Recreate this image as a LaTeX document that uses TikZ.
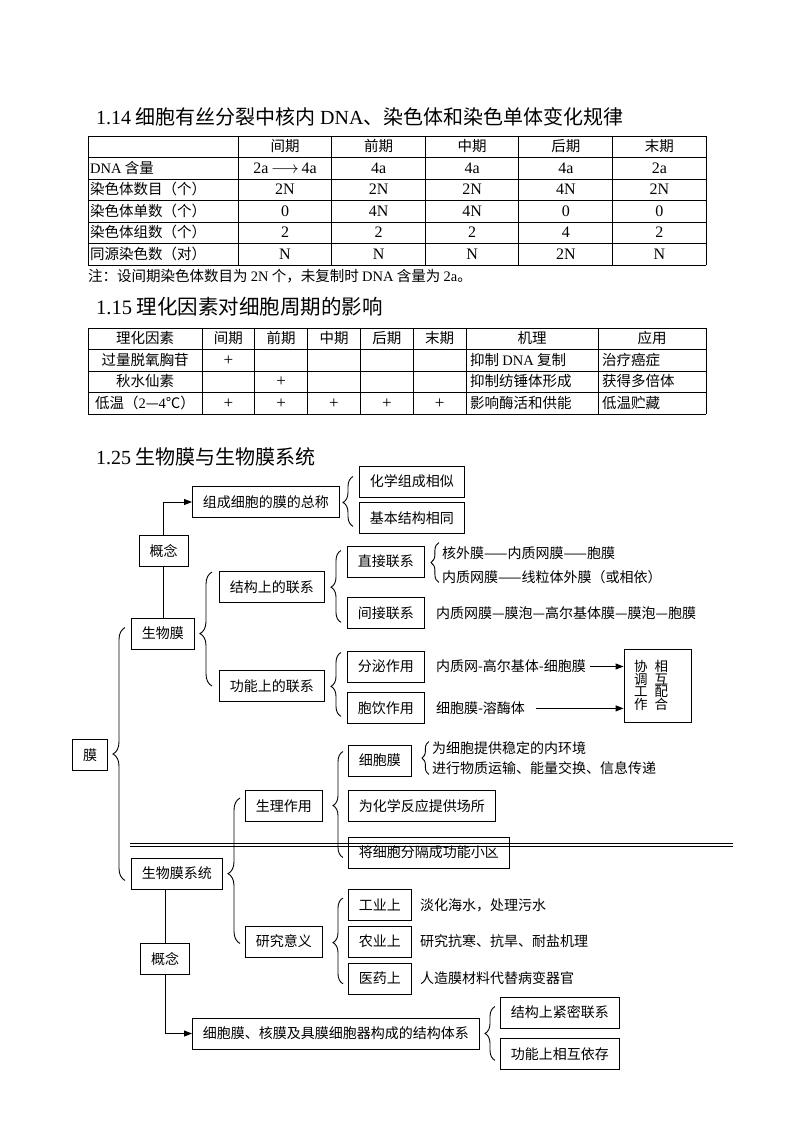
\documentclass[tikz,border=0pt]{standalone}
\usepackage{fontspec}
\setmainfont{Liberation Serif}
\newfontfamily\zhfont{Noto Sans CJK SC}
\usepackage{tikz}
\usetikzlibrary{arrows.meta, positioning, calc, decorations.pathreplacing}

\tikzset{
  box/.style={
    rectangle, draw, line width=0.9pt,
    inner xsep=10.5pt, inner ysep=0pt,
    minimum height=31pt,
    text height=11.5pt, text depth=1.5pt,
    font=\zhfont\fontsize{14}{14}\selectfont,
  },
  tallbox/.style={
    rectangle, draw, line width=0.9pt,
    minimum width=67pt, minimum height=73pt,
    inner xsep=10pt, inner ysep=0pt, text width=47pt,
    align=left, font=\zhfont\fontsize{13.5}{12.7}\selectfont,
  },
  txt/.style={
    inner sep=1pt, anchor=west,
    text height=11.5pt, text depth=1.5pt,
    font=\zhfont\fontsize{14}{14}\selectfont,
  },
  cell/.style={
    inner sep=0pt, text height=11.5pt, text depth=1.5pt,
    font=\zhfont\fontsize{14.5}{14.5}\selectfont,
  },
  numcell/.style={cell, font=\rmfamily\fontsize{16}{16}\selectfont},
  pluscell/.style={cell, font=\rmfamily\fontsize{17}{17}\selectfont},
  lcell/.style={cell, anchor=west},
  grid/.style={line width=0.9pt},
  title/.style={anchor=west, inner sep=0pt, font=\zhfont\fontsize{20}{20}\selectfont},
  arrow/.style={-{Triangle[length=8pt, width=6pt]}, line width=0.9pt},
  link/.style={line width=0.9pt},
  curly/.style={decorate, line width=0.9pt, decoration={brace, amplitude=#1}},
  curly/.default=10pt,
}

\begin{document}
\begin{tikzpicture}[x=1pt, y=-1pt]

  \fill[white] (0,0) rectangle (794,1123);
  \useasboundingbox (0,0) rectangle (794,1123);

  % 1.14
  \node[title] (tt1) at (96,117) {\textrm{1.14} 细胞有丝分裂中核内 \textrm{DNA}、染色体和染色单体变化规律};

  \foreach \x in {88,238,331.6,425.2,518.8,612.4,706}
    \draw[grid] (\x,136) -- (\x,265);
  \foreach \y in {136,157.5,179,200.5,222,243.5,265}
    \draw[grid] (88,\y) -- (706,\y);
  \foreach \h [count=\c] in {间期,前期,中期,后期,末期}
    \node[cell] (ta-0-\c) at (191.4+93.6*\c,146.75) {\h};
  \foreach \lab/\va/\vb/\vc/\vd/\ve [count=\r] in {
      {\textrm{DNA} 含量}/{2a\,$\longrightarrow$\,4a}/4a/4a/4a/2a,
      染色体数目（个）/2N/2N/2N/4N/2N,
      染色体单数（个）/0/4N/4N/0/0,
      染色体组数（个）/2/2/2/4/2,
      同源染色数（对）/N/N/N/2N/N} {
    \node[lcell] (ta-\r-0) at (90,146.75+21.5*\r) {\lab};
    \foreach \v [count=\c] in {\va,\vb,\vc,\vd,\ve}
      \node[numcell] (ta-\r-\c) at (191.4+93.6*\c,146.75+21.5*\r) {\v};
  }
  \node[lcell] (note) at (88,276) {注：设间期染色体数目为 \textrm{2N} 个，未复制时 \textrm{DNA} 含量为 \textrm{2a}。};

  % 1.15
  \node[title, font=\zhfont\fontsize{20.5}{20.5}\selectfont] (tt2) at (96,307) {\textrm{1.15} 理化因素对细胞周期的影响};

  \foreach \x in {88,202,254.8,307.6,360.4,413.2,466,598,706}
    \draw[grid] (\x,328) -- (\x,414);
  \foreach \y in {328,349.5,371,392.5,414}
    \draw[grid] (88,\y) -- (706,\y);
  \node[cell] (tb-0-0) at (145,338.75) {理化因素};
  \foreach \h [count=\c] in {间期,前期,中期,后期,末期}
    \node[cell] (tb-0-\c) at (175.6+52.8*\c,338.75) {\h};
  \node[cell] (tb-0-6) at (532,338.75) {机理};
  \node[cell] (tb-0-7) at (652,338.75) {应用};
  \node[cell] (tb-1-0) at (145,360.25) {过量脱氧胸苷};
  \node[cell] (tb-2-0) at (145,381.75) {秋水仙素};
  \node[cell] (tb-3-0) at (145,403.25) {低温（\textrm{2}—\textrm{4}℃）};
  \foreach \r/\c in {1/1,2/2,3/1,3/2,3/3,3/4,3/5}
    \node[pluscell] (tb-\r-\c) at (175.6+52.8*\c,338.75+21.5*\r) {+};
  \node[lcell] (tb-1-6) at (470,360.25) {抑制 \textrm{DNA} 复制};
  \node[lcell] (tb-2-6) at (470,381.75) {抑制纺锤体形成};
  \node[lcell] (tb-3-6) at (470,403.25) {影响酶活和供能};
  \node[lcell] (tb-1-7) at (602,360.25) {治疗癌症};
  \node[lcell] (tb-2-7) at (602,381.75) {获得多倍体};
  \node[lcell] (tb-3-7) at (602,403.25) {低温贮藏};

  % 1.25
  \node[title] (tt3) at (96,457) {\textrm{1.25} 生物膜与生物膜系统};

  \node[box] (m) at (90,755) {膜};
  \node[box, anchor=west] (smm) at (131,633.5) {生物膜};
  \node[box, anchor=west] (smmxt) at (131,873.5) {生物膜系统};

  % upper half
  \node[box] (gn1) at (163.5,551) {概念};
  \node[box, anchor=west] (zccm) at (192,502) {组成细胞的膜的总称};
  \node[box, anchor=west] (hx) at (359,481.5) {化学组成相似};
  \node[box, below=5pt of hx] (jb) {基本结构相同};
  \node[box, anchor=west] (jg) at (219,587) {结构上的联系};
  \node[box, anchor=west] (gnlx) at (219,686) {功能上的联系};
  \node[box, anchor=west] (zj) at (347,561.5) {直接联系};
  \node[box, below=20pt of zj] (jj) {间接联系};
  \node[txt] (hwm) at (441,553) {核外膜——内质网膜——胞膜};
  \node[txt] (nzw) at (441,577) {内质网膜——线粒体外膜（或相依）};
  \node[txt, right=10pt of jj] (jjt) {内质网膜—膜泡—高尔基体膜—膜泡—胞膜};
  \node[box, anchor=west] (fm) at (347,666.5) {分泌作用};
  \node[box, below=10pt of fm] (by) {胞饮作用};
  \node[txt, right=10pt of fm] (fmt) {内质网-高尔基体-细胞膜};
  \node[txt, right=10pt of by] (byt) {细胞膜-溶酶体};
  \node[tallbox] (xtgz) at (657.5,685.5) {协\hspace{7pt}相\\调\hspace{7pt}互\\工\hspace{7pt}配\\作\hspace{7pt}合};

  % lower half
  \node[box] (gn2) at (165,959) {概念};
  \node[box, anchor=west] (slzy) at (245,806) {生理作用};
  \node[box, anchor=west] (yjyy) at (245,941.5) {研究意义};
  \node[box, anchor=west] (xbm) at (348,760.5) {细胞膜};
  \node[box, anchor=west] (hxfy) at (348,806) {为化学反应提供场所};
  \node[box, anchor=west] (fg) at (348,852.5) {将细胞分隔成功能小区};
  \node[txt] (wxb) at (431,748) {为细胞提供稳定的内环境};
  \node[txt] (jxwz) at (431,768) {进行物质运输、能量交换、信息传递};
  \node[box, anchor=west] (gy) at (348,905) {工业上};
  \node[box, below=5pt of gy] (ny) {农业上};
  \node[box, below=5pt of ny] (yy) {医药上};
  \node[txt, right=7pt of gy] (gyt) {淡化海水，处理污水};
  \node[txt, right=7pt of ny] (nyt) {研究抗寒、抗旱、耐盐机理};
  \node[txt, right=7pt of yy] (yyt) {人造膜材料代替病变器官};
  \node[box, anchor=west] (tx) at (192,1033.5) {细胞膜、核膜及具膜细胞器构成的结构体系};
  \node[box, anchor=west] (jm) at (500,1012.5) {结构上紧密联系};
  \node[box, below=10pt of jm] (xy) {功能上相互依存};

  % double rule
  \draw[link] (130,843) -- (733,843);
  \draw[link] (130,846) -- (733,846);

  % connectors
  \draw[link] (smm.north -| gn1) -- (gn1.south);
  \draw[arrow] (gn1.north) |- (zccm.west);
  \draw[link] (smmxt.south -| gn2) -- (gn2.north);
  \draw[arrow] (gn2.south) |- (tx.west);
  \draw[arrow, shorten <=3pt] (fmt.east) -- (fmt.east -| xtgz.west);
  \draw[arrow, shorten <=10pt] (byt.east) -- (byt.east -| xtgz.west);

  % braces
  \draw[curly=12pt, decoration={aspect=0.5}] ([shift={(-6,-9)}]smmxt.south west) -- ([shift={(-6,10)}]smm.north west);
  \draw[curly=10pt, decoration={aspect=0.48}] ([shift={(-6,-8)}]jb.south west) -- ([shift={(-6,11)}]hx.north west);
  \draw[curly=12pt, decoration={aspect=0.46}] ([xshift=-7pt]gnlx.west) -- ([shift={(-7,1)}]jg.north west);
  \draw[curly=10pt, decoration={aspect=0.49}] ([shift={(-6,-7)}]jj.south west) -- ([shift={(-6,5)}]zj.north west);
  \draw[curly=8pt, decoration={aspect=0.5}] ([shift={(14,5)}]zj.south east) -- ([shift={(14,-3)}]zj.north east);
  \draw[curly=10pt, decoration={aspect=0.47}] ([shift={(-6,-8)}]by.south west) -- ([shift={(-6,2)}]fm.north west);
  \draw[curly=12pt, decoration={aspect=0.48}] ([shift={(-5,-14)}]yjyy.south west) -- ([shift={(-5,8)}]slzy.north west);
  \draw[curly=10pt, decoration={aspect=0.49}] ([shift={(-5,-11)}]fg.south west) -- ([shift={(-5,7)}]xbm.north west);
  \draw[curly=7pt, decoration={aspect=0.5}] ([shift={(17,-2)}]xbm.south east) -- ([shift={(17,-3)}]xbm.north east);
  \draw[curly=10pt, decoration={aspect=0.48}] ([shift={(-5,-11)}]yy.south west) -- ([shift={(-5,9)}]gy.north west);
  \draw[curly=10pt, decoration={aspect=0.5}] ([shift={(-5,-10)}]xy.south west) -- ([shift={(-5,10)}]jm.north west);

\end{tikzpicture}
\end{document}
